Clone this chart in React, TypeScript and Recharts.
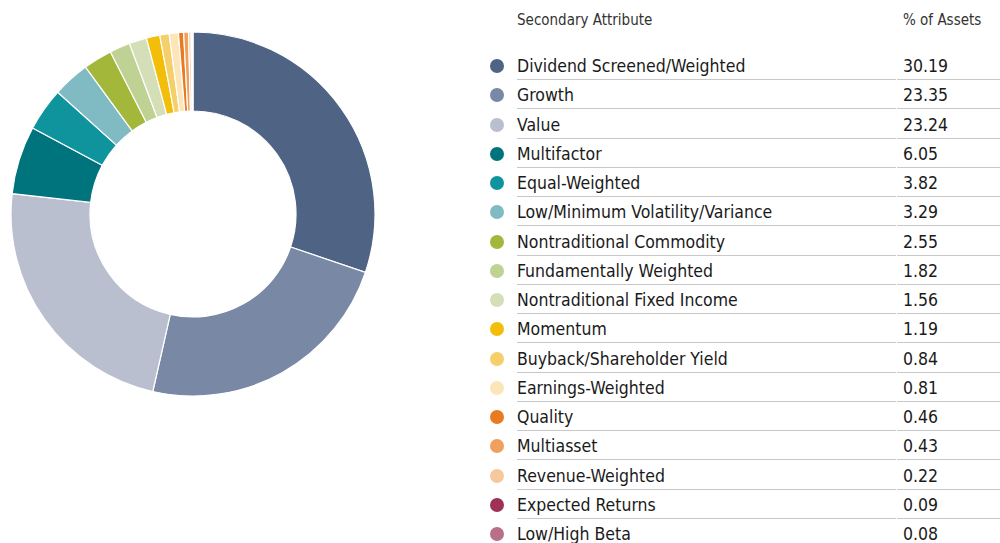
import React from 'react';
import { PieChart, Pie, Cell } from 'recharts';

const categories = [
  'Dividend Screened/Weighted',
  'Growth',
  'Value',
  'Multifactor',
  'Equal-Weighted',
  'Low/Minimum Volatility/Variance',
  'Nontraditional Commodity',
  'Fundamentally Weighted',
  'Nontraditional Fixed Income',
  'Momentum',
  'Buyback/Shareholder Yield',
  'Earnings-Weighted',
  'Quality',
  'Multiasset',
  'Revenue-Weighted',
  'Expected Returns',
  'Low/High Beta',
];

const values = [30.19, 23.35, 23.24, 6.05, 3.82, 3.29, 2.55, 1.82, 1.56, 1.19, 0.84, 0.81, 0.46, 0.43, 0.22, 0.09, 0.08];

const colors = [
  '#4f6485', '#7888a5', '#b9bfcf', '#00747c', '#0f949e', '#80bac3', '#a3b83a', '#bfd193',
  '#d4dfb8', '#f2be0a', '#f5cf6a', '#fce5b8', '#e87b22', '#f0a05e', '#f7c89b', '#9f3058', '#b86f88',
];

const headers = ['Secondary Attribute', '% of Assets'];

const data = categories.map((name, i) => ({ name, value: values[i] }));

const FONT = "'DejaVu Sans Condensed', 'Roboto', sans-serif";

export default function App() {
  const rowTop = 51;
  const rowH = 29.25;
  return (
    <div style={{ position: 'absolute', left: 0, top: 0, width: 1000, height: 543, overflow: 'hidden', background: '#fff', fontFamily: FONT }}>
      <PieChart width={1000} height={543} margin={{ top: 0, right: 0, bottom: 0, left: 0 }} style={{ position: 'absolute', left: 0, top: 0 }}>
        <Pie
          data={data}
          dataKey="value"
          nameKey="name"
          cx={193}
          cy={214}
          innerRadius={103}
          outerRadius={182}
          startAngle={90}
          endAngle={-270}
          stroke="#ffffff"
          strokeWidth={1.2}
          isAnimationActive={false}
        >
          {data.map((d, i) => (
            <Cell key={d.name} fill={colors[i]} />
          ))}
        </Pie>
      </PieChart>
      <div style={{ position: 'absolute', left: 517, top: 9, fontSize: 15, color: '#333', lineHeight: '22px' }}>{headers[0]}</div>
      <div style={{ position: 'absolute', left: 903, top: 9, fontSize: 15, color: '#333', lineHeight: '22px' }}>{headers[1]}</div>
      {data.map((d, i) => {
        const top = rowTop + i * rowH;
        return (
          <React.Fragment key={d.name}>
            <div style={{ position: 'absolute', left: 490, top: top + 8, width: 14, height: 14, borderRadius: 7, background: colors[i] }} />
            <div style={{ position: 'absolute', left: 517, top, fontSize: 17.5, color: '#1a1a1a', lineHeight: '30px', whiteSpace: 'nowrap' }}>{d.name}</div>
            <div style={{ position: 'absolute', left: 903, top, fontSize: 17.5, color: '#1a1a1a', lineHeight: '30px' }}>{d.value.toFixed(2)}</div>
            <div style={{ position: 'absolute', left: 517, top: top + 28, width: 379, height: 1, background: '#c8c8c8' }} />
            <div style={{ position: 'absolute', left: 897, top: top + 28, width: 103, height: 1, background: '#c8c8c8' }} />
          </React.Fragment>
        );
      })}
    </div>
  );
}
